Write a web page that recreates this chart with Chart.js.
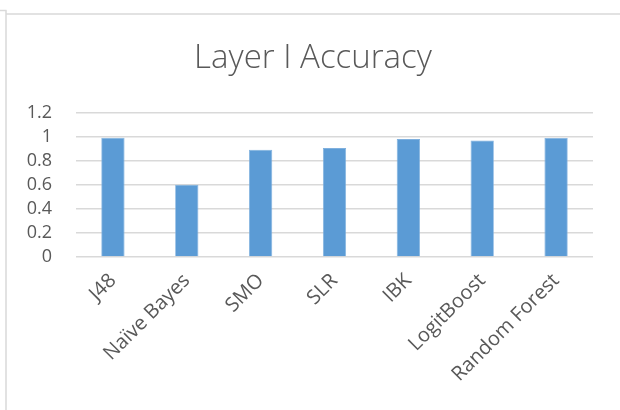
<!DOCTYPE html>
<html>
<head>
<meta charset="utf-8">
<script src="https://cdn.jsdelivr.net/npm/chart.js@4/dist/chart.umd.min.js"></script>
<style>
  html, body { margin: 0; padding: 0; background: #ffffff; }
  #wrap { width: 620px; height: 410px; position: relative; }
</style>
</head>
<body>
<div id="wrap"><canvas id="chart" width="620" height="410"></canvas></div>
<script>
// Classifier names and their accuracy on layer I
const categories = ["J48", "Naïve Bayes", "SMO", "SLR", "IBK", "LogitBoost", "Random Forest"];
const accuracy = [0.994, 0.603, 0.894, 0.908, 0.983, 0.972, 0.992];
const yTicks = [0, 0.2, 0.4, 0.6, 0.8, 1, 1.2];
const chartTitle = "Layer I Accuracy";

const GRID = "#d9d9d9";
const TEXT = "#595959";

// Thin frame along the top and left edges of the chart box
const framePlugin = {
  id: "frame",
  beforeDraw(chart) {
    const ctx = chart.ctx;
    ctx.save();
    ctx.strokeStyle = GRID;
    ctx.lineWidth = 1.5;
    ctx.beginPath();
    ctx.moveTo(0, 10.5); ctx.lineTo(6.5, 10.5);
    ctx.moveTo(6, 10); ctx.lineTo(6, 410);
    ctx.moveTo(6, 14); ctx.lineTo(620, 14);
    ctx.stroke();
    ctx.restore();
  }
};

new Chart(document.getElementById("chart"), {
  type: "bar",
  data: {
    labels: categories,
    datasets: [{
      data: accuracy,
      backgroundColor: "#5b9bd5",
      borderColor: "#7fb0de",
      borderWidth: 0.8,
      categoryPercentage: 1,
      barPercentage: 0.315
    }]
  },
  options: {
    responsive: false,
    animation: false,
    devicePixelRatio: 1,
    layout: { padding: { left: 6, right: 0, top: 14, bottom: 0 } },
    plugins: {
      legend: { display: false },
      tooltip: { enabled: false },
      title: {
        display: true,
        text: chartTitle,
        color: TEXT,
        font: { family: "'Open Sans', sans-serif", size: 33, weight: 300 },
        padding: { top: 24.5, bottom: 35 }
      }
    },
    scales: {
      x: {
        grid: { display: false },
        border: { display: false },
        ticks: {
          color: TEXT,
          font: { family: "'Open Sans', sans-serif", size: 20 },
          minRotation: 45,
          maxRotation: 45,
          autoSkip: false,
          padding: 4
        },
        afterFit(scale) { scale.height = 153; }
      },
      y: {
        min: 0,
        max: 1.2,
        afterBuildTicks(scale) { scale.ticks = yTicks.map(v => ({ value: v })); },
        grid: { color: GRID, lineWidth: 1.5, drawTicks: false },
        border: { display: false },
        ticks: {
          color: TEXT,
          font: { family: "'Open Sans', sans-serif", size: 18 },
          padding: 24,
          autoSkip: false,
          callback: v => String(v)
        },
        afterFit(scale) { scale.width = 70; }
      },
      // empty margin on the right side of the plot
      yRight: {
        position: "right",
        min: 0,
        max: 1.2,
        grid: { display: false },
        border: { display: false },
        ticks: { display: false },
        afterFit(scale) { scale.width = 27; }
      }
    }
  },
  plugins: [framePlugin]
});
</script>
</body>
</html>
